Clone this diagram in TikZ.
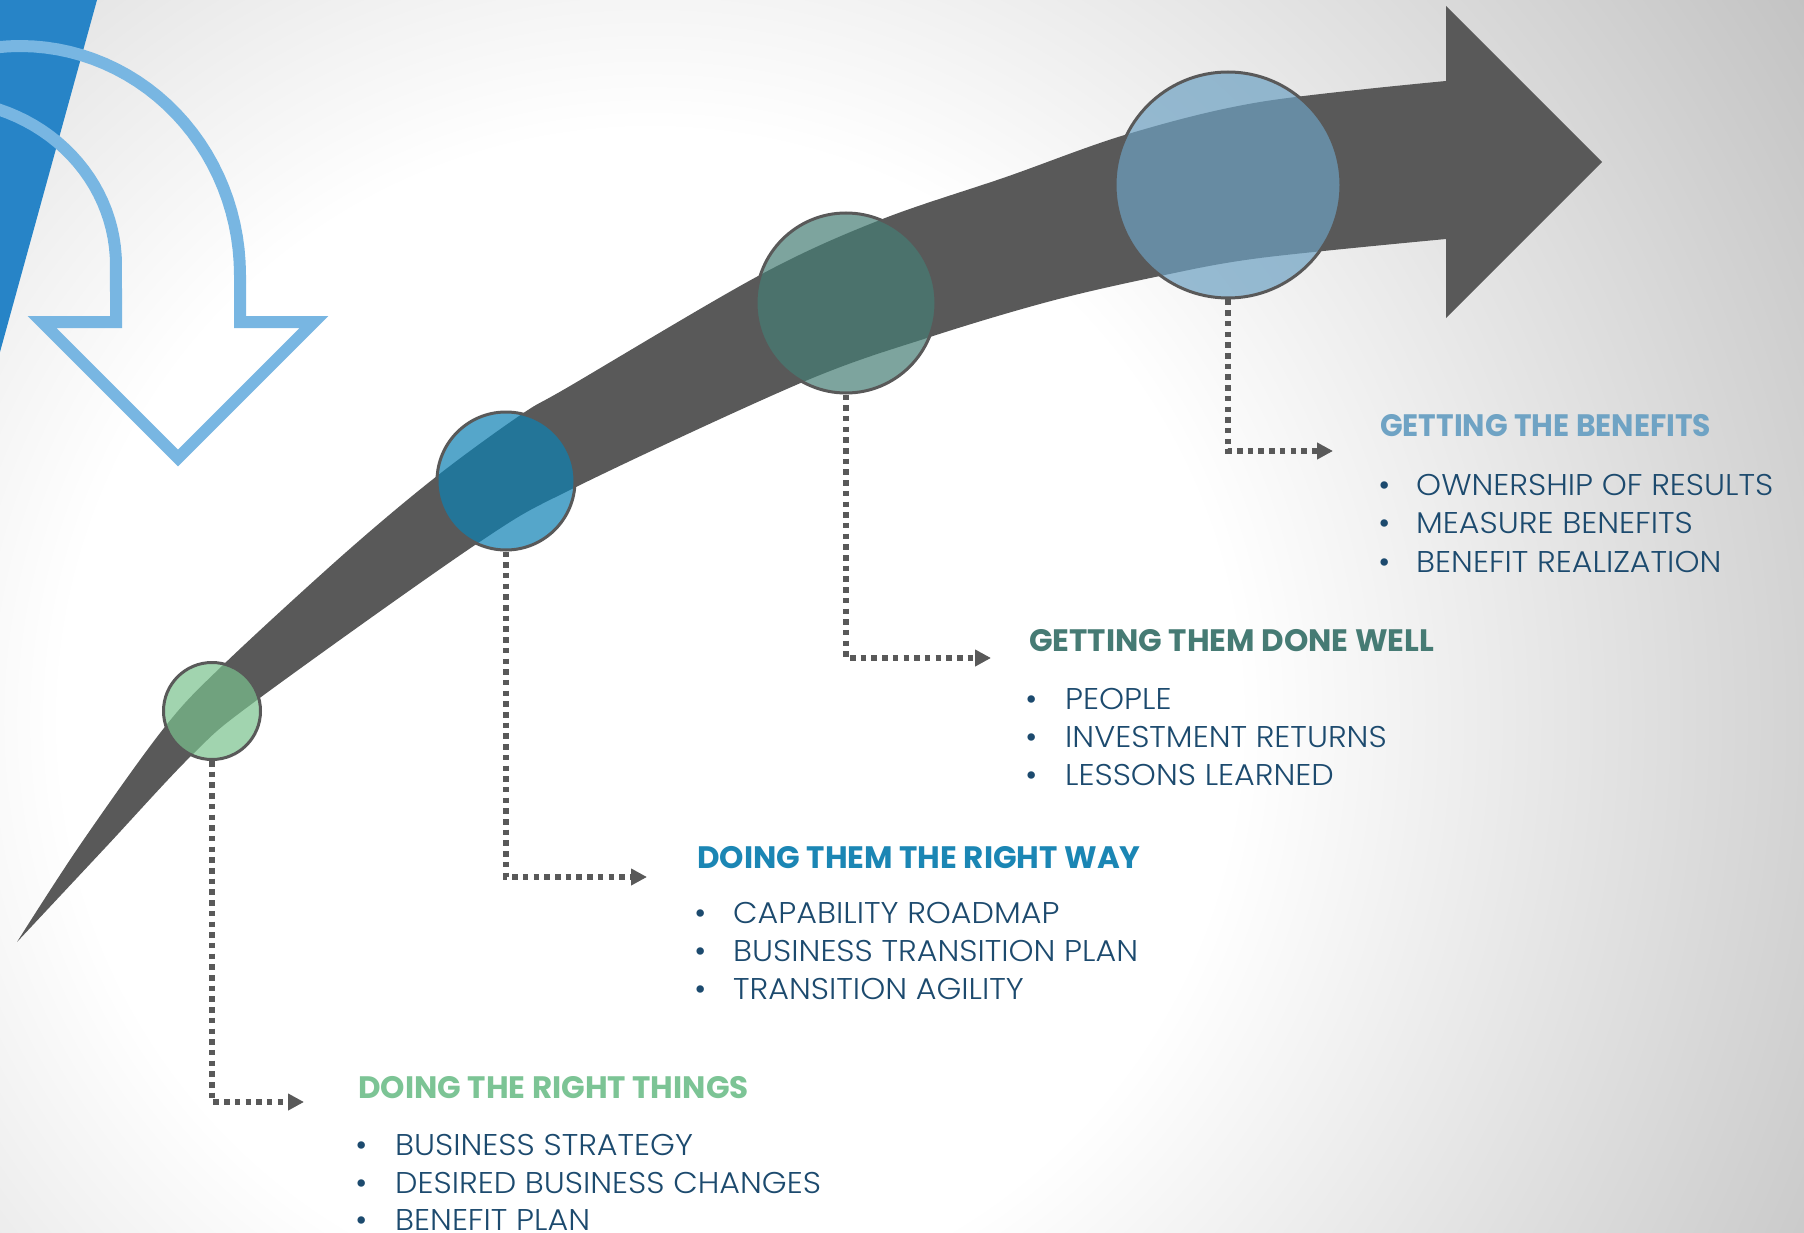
\documentclass[tikz,border=0pt]{standalone}
\usepackage{fontspec}
\setmainfont{Poppins}
\newfontfamily\itemfont[FakeStretch=1.06, UprightFont=* Light]{Poppins}
\usetikzlibrary{arrows.meta}
\definecolor{bandgray}{HTML}{595959}
\definecolor{triblue}{HTML}{2784C7}
\definecolor{outblue}{HTML}{78B6E2}
\definecolor{cgreen}{HTML}{7AC28E}
\definecolor{cblue}{HTML}{0D81B4}
\definecolor{cteal}{HTML}{467E75}
\definecolor{csky}{HTML}{6DA1C2}
\definecolor{hgreen}{HTML}{7CC495}
\definecolor{hblue}{HTML}{1B86B4}
\definecolor{hteal}{HTML}{467B74}
\definecolor{hsky}{HTML}{6FA3C4}
\definecolor{bodytext}{HTML}{1C4A6E}
\definecolor{bgg}{HTML}{C0C0C0}
\pgfdeclareradialshading{bgshade}{\pgfpoint{0bp}{0bp}}{color(0bp)=(white); color(10.5bp)=(white); color(25bp)=(bgg); color(50bp)=(bgg)}
\begin{document}
\begin{tikzpicture}[x=1pt,y=-1pt,
  stage/.style={circle, draw=bandgray, line width=3pt, inner sep=0pt, fill opacity=0.7, draw opacity=1},
  conn/.style={draw=bandgray, line width=5.5pt, dash pattern=on 5.5pt off 5.2pt, -{Triangle[length=16pt,width=16pt]}},
  head/.style={anchor=base west, inner sep=0pt, font=\fontsize{31}{31}\selectfont\bfseries},
  item/.style={anchor=base west, inner sep=0pt, text=bodytext, font=\fontsize{30}{30}\itemfont},
  dot/.style={anchor=base, inner sep=0pt, text=bodytext, font=\fontsize{30}{30}\selectfont},
]
\useasboundingbox (0,0) rectangle (1804,1233);
\clip (0,0) rectangle (1804,1233);
% background
\shade[shading=bgshade] (650,720) circle[radius=1400];
% blue triangle
\fill[triblue] (0,0) -- (97,0) -- (0,352) -- cycle;
% outlined down arrow
\draw[outblue, line width=12pt]
  plot[domain=125:0, samples=40, variable=\t] ({-60+176*cos(\t)}, {265-165*sin(\t)})
  -- (116,322) -- (42,322) -- (178,458) -- (314,322) -- (240,322)
  -- plot[domain=0:125, samples=40, variable=\t] ({20+220*cos(\t)}, {275-229*sin(\t)}) -- cycle;
% main curved arrow
\fill[bandgray]
  plot[smooth, tension=0.55] coordinates {(17,942) (80,845) (164,728) (222,666) (344,554) (437,476) (522,414) (570,386) (760,275) (880,220) (1006,177) (1128,134) (1260,102) (1446,81)}
  -- (1446,6) -- (1602,162) -- (1446,318) -- (1446,239)
  -- plot[smooth, tension=0.55] coordinates {(1446,239) (1260,258) (1160,276) (1051,301) (930,337) (803,382) (576,487) (478,543) (257,700) (193,754) (105,848) (17,942)} -- cycle;
% stage circles
\node[stage, fill=cgreen, minimum size=97pt] (c1) at (212,711) {};
\node[stage, fill=cblue, minimum size=138pt] (c2) at (506,481) {};
\node[stage, fill=cteal, minimum size=180pt] (c3) at (846,303) {};
\node[stage, fill=csky, minimum size=226pt] (c4) at (1228,185) {};
% connectors
\coordinate (t1) at (304,1102);
\coordinate (t2) at (647,877);
\coordinate (t3) at (991,658);
\coordinate (t4) at (1333,451);
\draw[conn] (c1.south) |- (t1);
\draw[conn] (c2.south) |- (t2);
\draw[conn] (c3.south) |- (t3);
\draw[conn] (c4.south) |- (t4);
% block 4
\node[head, text=hsky] (h4) at (1380,436) {\addfontfeatures{FakeStretch=0.96}GETTING THE BENEFITS};
\node[dot] (b4a) at (1385,495) {•};
\node[dot] (b4b) at (1385,533) {•};
\node[dot] (b4c) at (1385,572) {•};
\node[item] (i4a) at (1416,495) {OWNERSHIP OF RESULTS};
\node[item] (i4b) at (1416,533) {MEASURE BENEFITS};
\node[item] (i4c) at (1416,572) {BENEFIT REALIZATION};
% block 3
\node[head, text=hteal] (h3) at (1029,651) {GETTING THEM DONE WELL};
\node[dot] (b3a) at (1032,709) {•};
\node[dot] (b3b) at (1032,747) {•};
\node[dot] (b3c) at (1032,785) {•};
\node[item] (i3a) at (1065,709) {PEOPLE};
\node[item] (i3b) at (1065,747) {INVESTMENT RETURNS};
\node[item] (i3c) at (1065,785) {LESSONS LEARNED};
% block 2
\node[head, text=hblue] (h2) at (697,868) {DOING THEM THE RIGHT WAY};
\node[dot] (b2a) at (701,923) {•};
\node[dot] (b2b) at (701,961) {•};
\node[dot] (b2c) at (701,999) {•};
\node[item] (i2a) at (733,923) {CAPABILITY ROADMAP};
\node[item] (i2b) at (733,961) {BUSINESS TRANSITION PLAN};
\node[item] (i2c) at (733,999) {TRANSITION AGILITY};
% block 1
\node[head, text=hgreen] (h1) at (358,1098) {DOING THE RIGHT THINGS};
\node[dot] (b1a) at (362,1155) {•};
\node[dot] (b1b) at (362,1193) {•};
\node[dot] (b1c) at (362,1230) {•};
\node[item] (i1a) at (395,1155) {BUSINESS STRATEGY};
\node[item] (i1b) at (395,1193) {DESIRED BUSINESS CHANGES};
\node[item] (i1c) at (395,1230) {BENEFIT PLAN};
\end{tikzpicture}
\end{document}
